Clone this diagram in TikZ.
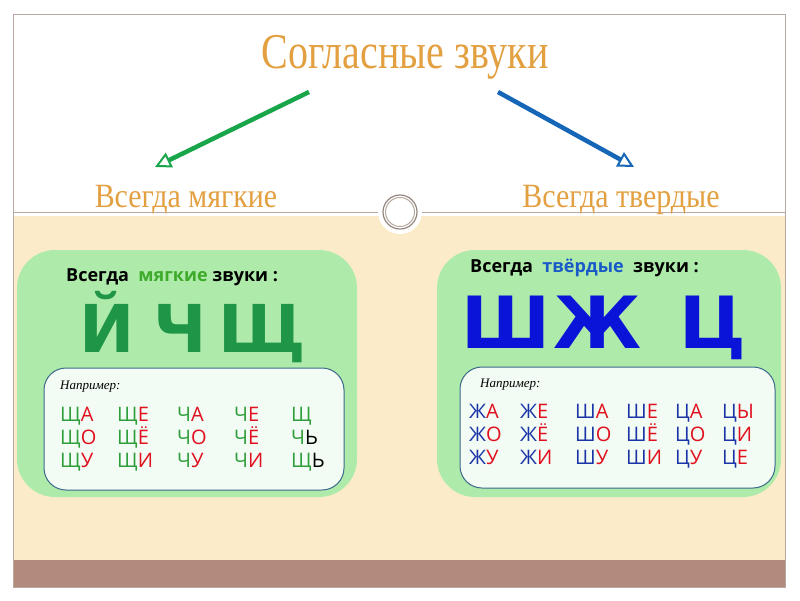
\documentclass[tikz,border=0pt]{standalone}
\usepackage{fontspec}
\setmainfont{Liberation Serif}
\newfontfamily\cardfont{Open Sans}
\newfontfamily\bigfont{DejaVu Sans}
\usetikzlibrary{arrows.meta}
\definecolor{titleor}{HTML}{E3A040}
\definecolor{cream}{HTML}{FCEBC8}
\definecolor{brownband}{HTML}{B38B7C}
\definecolor{framec}{HTML}{B8A8A0}
\definecolor{cardg}{HTML}{AEEBAA}
\definecolor{innerw}{HTML}{F2FBF4}
\definecolor{innerb}{HTML}{3C6A8A}
\definecolor{bigg}{HTML}{1F9548}
\definecolor{bigb}{HTML}{0A14D8}
\definecolor{exg}{HTML}{2E9E3A}
\definecolor{exr}{HTML}{E0101E}
\definecolor{exb}{HTML}{1A34A8}
\definecolor{arrg}{HTML}{19A64A}
\definecolor{arrb}{HTML}{1666B8}
\definecolor{mgreen}{HTML}{3DAA2A}
\definecolor{tblue}{HTML}{1A5AC8}
\tikzset{
 ex/.style={anchor=base west,inner sep=0,font=\cardfont\fontsize{20}{20}\selectfont},
 sub/.style={anchor=base,inner sep=0,text=titleor,xscale=0.88,font=\fontsize{34}{34}\selectfont},
 hd/.style={anchor=base west,inner sep=0,font=\cardfont\bfseries\fontsize{18}{18}\selectfont},
 bigl/.style={anchor=base,inner sep=0,font=\bigfont\bfseries\fontsize{66}{66}\selectfont},
 bigr/.style={anchor=base,inner sep=0,font=\bigfont\bfseries\fontsize{72}{72}\selectfont},
 nap/.style={anchor=base west,inner sep=0,font=\itshape\fontsize{13}{13}\selectfont},
 arr/.style={line width=4.5pt,-{Triangle[open,length=16pt,width=16pt,line width=2pt]}}
}
\newcommand{\gs}[2]{\textcolor{exg}{#1}\textcolor{exr}{#2}}
\newcommand{\bs}[2]{\textcolor{exb}{#1}\textcolor{exr}{#2}}
\begin{document}
\begin{tikzpicture}[x=1pt,y=-1pt]
\useasboundingbox (0,0) rectangle (800,600);
\fill[white] (0,0) rectangle (800,600);
\fill[cream] (13,216) rectangle (785,560);
\fill[brownband] (13,560) rectangle (785,587);
\draw[framec,line width=0.8pt] (13,14) rectangle (785,587);
\draw[framec,line width=1pt] (13,212) -- (785,212);
\fill[white] (400,212) circle (22);
\draw[framec!80!black,line width=1.2pt] (400,212) circle (17);
\draw[framec,line width=1pt] (400,212) circle (14.5);
\node[anchor=base,inner sep=0,text=titleor,xscale=0.8,font=\fontsize{50}{50}\selectfont] (title) at (405,68) {Согласные звуки};
\node[sub] (soft) at (186,207) {Всегда мягкие};
\node[sub] (hard) at (621,207) {Всегда твердые};
\coordinate (ga) at (309,92); \coordinate (gb) at (155,167);
\coordinate (ba) at (498,92); \coordinate (bb) at (634,167);
\draw[arr,arrg] (ga) -- (gb);
\draw[arr,arrb] (ba) -- (bb);
% left card
\fill[cardg] (17,250) [rounded corners=38] rectangle (357,497);
\draw[innerb,line width=1pt,fill=innerw,rounded corners=22] (44,368) rectangle (344,490);
\node[hd] (lh) at (66,281) {Всегда \ \textcolor{mgreen}{мягкие} звуки :};
\node[bigl,text=bigg] (l1) at (107,352) {Й};
\node[bigl,text=bigg] (l2) at (180,352) {Ч};
\node[bigl,text=bigg] (l3) at (262,352) {Щ};
\node[nap] (ln) at (60,389) {Например:};
\node[ex] at (60,421) {\gs{Щ}{А}}; \node[ex] at (60,444) {\gs{Щ}{О}}; \node[ex] at (60,467) {\gs{Щ}{У}};
\node[ex] at (117,421) {\gs{Щ}{Е}}; \node[ex] at (117,444) {\gs{Щ}{Ё}}; \node[ex] at (117,467) {\gs{Щ}{И}};
\node[ex] at (177,421) {\gs{Ч}{А}}; \node[ex] at (177,444) {\gs{Ч}{О}}; \node[ex] at (177,467) {\gs{Ч}{У}};
\node[ex] at (234,421) {\gs{Ч}{Е}}; \node[ex] at (234,444) {\gs{Ч}{Ё}}; \node[ex] at (234,467) {\gs{Ч}{И}};
\node[ex] at (291,421) {\gs{Щ}{}}; \node[ex] at (291,444) {\textcolor{exg}{Ч}Ь}; \node[ex] at (291,467) {\textcolor{exg}{Щ}Ь};
% right card
\fill[cardg] (437,250) [rounded corners=38] rectangle (781,497);
\draw[innerb,line width=1pt,fill=innerw,rounded corners=22] (460,367) rectangle (775,488);
\node[hd] (rh) at (470,272) {Всегда \ \textcolor{tblue}{твёрдые} \ звуки :};
\node[bigr,text=bigb] (r1) at (506,348) {Ш};
\node[bigr,text=bigb] (r2) at (598,348) {Ж};
\node[bigr,text=bigb] (r3) at (713,348) {Ц};
\node[nap] (rn) at (480,387) {Например:};
\node[ex] at (469,418) {\bs{Ж}{А}}; \node[ex] at (469,441) {\bs{Ж}{О}}; \node[ex] at (469,464) {\bs{Ж}{У}};
\node[ex] at (520,418) {\bs{Ж}{Е}}; \node[ex] at (520,441) {\bs{Ж}{Ё}}; \node[ex] at (520,464) {\bs{Ж}{И}};
\node[ex] at (575,418) {\bs{Ш}{А}}; \node[ex] at (575,441) {\bs{Ш}{О}}; \node[ex] at (575,464) {\bs{Ш}{У}};
\node[ex] at (626,418) {\bs{Ш}{Е}}; \node[ex] at (626,441) {\bs{Ш}{Ё}}; \node[ex] at (626,464) {\bs{Ш}{И}};
\node[ex] at (675,418) {\bs{Ц}{А}}; \node[ex] at (675,441) {\bs{Ц}{О}}; \node[ex] at (675,464) {\bs{Ц}{У}};
\node[ex] at (722,418) {\bs{Ц}{Ы}}; \node[ex] at (722,441) {\bs{Ц}{И}}; \node[ex] at (722,464) {\bs{Ц}{Е}};
\end{tikzpicture}
\end{document}
